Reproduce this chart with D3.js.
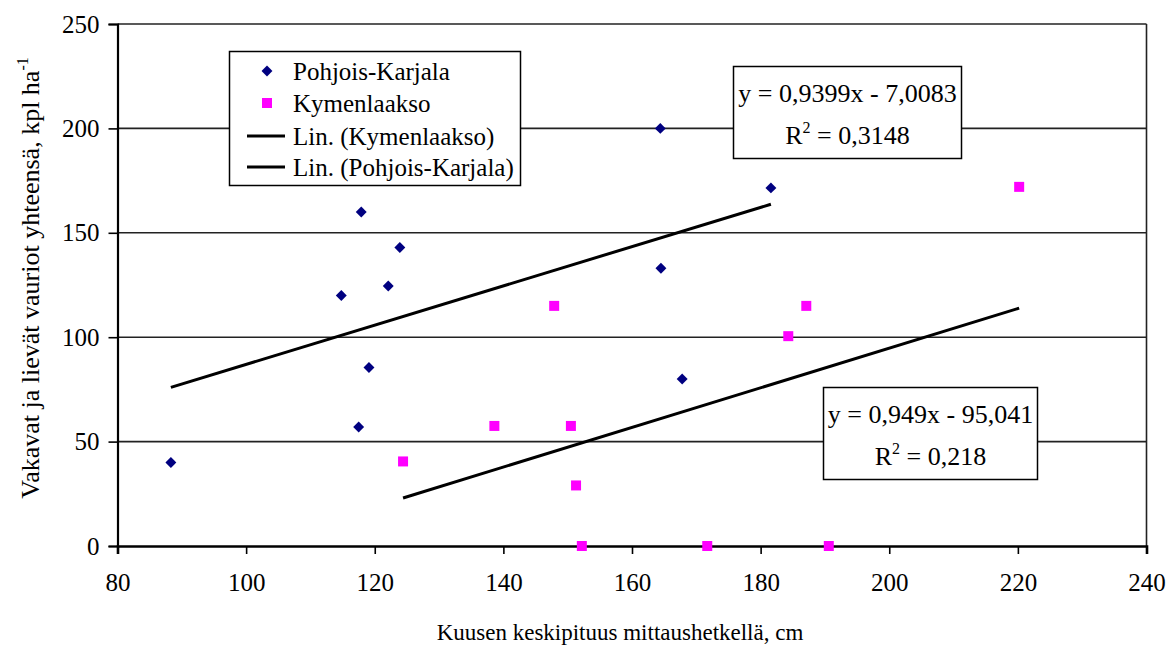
<!DOCTYPE html>
<html>
<head>
<meta charset="utf-8">
<script src="https://cdn.jsdelivr.net/npm/d3@7"></script>
<style>
  html, body { margin: 0; padding: 0; background: #fff; }
  svg { display: block; font-family: "Liberation Serif", "Times New Roman", serif; }
</style>
</head>
<body>
<svg id="chart" width="1168" height="648"></svg>
<script>
// Spruce mean height (cm) vs. total severe + mild damages (pcs/ha)
const pkX = [88.3, 114.8, 117.5, 117.9, 119.1, 122.1, 123.9, 164.4, 164.5, 167.8, 181.6];
const pkY = [40, 120, 57, 160, 85.5, 124.5, 143, 200, 133, 80, 171.5];
const kyX = [124.4, 138.6, 147.9, 150.5, 151.3, 152.2, 171.7, 184.3, 187.1, 190.6, 220.2];
const kyY = [40.5, 57.5, 115, 57.5, 29, 0, 0, 100.5, 115, 0, 172];

// Linear trend coefficients [slope, intercept] and R²
const pkFit = [0.9399, -7.0083];
const pkR2 = "0,3148";
const kyFit = [0.949, -95.041];
const kyR2 = "0,218";

const xTicks = [80, 100, 120, 140, 160, 180, 200, 220, 240];
const yTicks = [0, 50, 100, 150, 200, 250];

const legendItems = ["Pohjois-Karjala", "Kymenlaakso", "Lin. (Kymenlaakso)", "Lin. (Pohjois-Karjala)"];

const svg = d3.select("#chart");
const plotL = 117.5, plotR = 1146.5, plotT = 24, plotB = 546;

const x = d3.scaleLinear().domain([80, 240]).range([plotL, plotR]);
const y = d3.scaleLinear().domain([0, 250]).range([plotB, plotT]);

const FONT = 25;
const SERIF = "Liberation Serif";

// horizontal gridlines
svg.append("g").selectAll("line").data(yTicks.filter(d => d > 0)).join("line")
  .attr("x1", plotL).attr("x2", plotR)
  .attr("y1", d => y(d)).attr("y2", d => y(d))
  .attr("stroke", "#222").attr("stroke-width", 1.6);

// right frame line
svg.append("line").attr("x1", plotR).attr("x2", plotR).attr("y1", plotT).attr("y2", plotB)
  .attr("stroke", "#222").attr("stroke-width", 1.6);

// y axis
const yAxis = svg.append("g").attr("transform", `translate(${plotL},0)`)
  .call(d3.axisLeft(y).tickValues(yTicks).tickSize(9).tickPadding(9).tickFormat(d3.format("d")));
yAxis.attr("font-family", SERIF);
yAxis.select(".domain").attr("stroke", "#000").attr("stroke-width", 2.2);
yAxis.selectAll(".tick line").attr("stroke", "#000").attr("stroke-width", 1.6);
yAxis.selectAll("text").attr("font-size", FONT).attr("font-family", SERIF).attr("fill", "#000");

// x axis
const xAxis = svg.append("g").attr("transform", `translate(0,${plotB})`)
  .call(d3.axisBottom(x).tickValues(xTicks).tickSize(8).tickPadding(19).tickFormat(d3.format("d")));
xAxis.attr("font-family", SERIF);
xAxis.select(".domain").attr("stroke", "#000").attr("stroke-width", 2.6);
xAxis.selectAll(".tick line").attr("stroke", "#000").attr("stroke-width", 1.6);
xAxis.selectAll("text").attr("font-size", FONT).attr("font-family", SERIF).attr("fill", "#000");

// axis titles
svg.append("text")
  .attr("x", 620).attr("y", 640)
  .attr("text-anchor", "middle").attr("font-size", 23)
  .text("Kuusen keskipituus mittaushetkellä, cm");

const yt = svg.append("text")
  .attr("transform", "translate(39,278) rotate(-90)")
  .attr("text-anchor", "middle").attr("font-size", 26);
yt.append("tspan").text("Vakavat ja lievät vauriot yhteensä, kpl ha");
yt.append("tspan").attr("dy", -11).attr("font-size", 16).text("-1");

// trend lines over each series' x range
function trend(xs, fit) {
  const [lo, hi] = d3.extent(xs);
  return [[lo, fit[0] * lo + fit[1]], [hi, fit[0] * hi + fit[1]]];
}
const line = d3.line().x(d => x(d[0])).y(d => y(d[1]));
svg.append("path").attr("d", line(trend(pkX, pkFit)))
  .attr("stroke", "#000").attr("stroke-width", 3).attr("fill", "none");
svg.append("path").attr("d", line(trend(kyX, kyFit)))
  .attr("stroke", "#000").attr("stroke-width", 3).attr("fill", "none");

// markers
const diamond = d3.symbol().type(d3.symbolDiamond2).size(76);
const square = d3.symbol().type(d3.symbolSquare).size(100);

svg.append("g").selectAll("path").data(pkX.map((v, i) => [v, pkY[i]])).join("path")
  .attr("d", diamond)
  .attr("transform", d => `translate(${x(d[0])},${y(d[1])})`)
  .attr("fill", "#000080");

svg.append("g").selectAll("path").data(kyX.map((v, i) => [v, kyY[i]])).join("path")
  .attr("d", square)
  .attr("transform", d => `translate(${x(d[0])},${y(d[1])})`)
  .attr("fill", "#ff00ff");

// legend
const lg = svg.append("g");
lg.append("rect").attr("x", 229.5).attr("y", 51.5).attr("width", 291).attr("height", 134)
  .attr("fill", "#fff").attr("stroke", "#000").attr("stroke-width", 1.5);
const rowY = [71, 103, 136, 167];
lg.selectAll("text").data(legendItems).join("text")
  .attr("x", 293).attr("y", (d, i) => rowY[i] + 9)
  .attr("font-size", FONT).text(d => d);
lg.append("path").attr("d", diamond).attr("transform", `translate(267,${rowY[0]})`).attr("fill", "#000080");
lg.append("path").attr("d", square).attr("transform", `translate(267,${rowY[1]})`).attr("fill", "#ff00ff");
[2, 3].forEach(i => {
  lg.append("line").attr("x1", 247).attr("x2", 285).attr("y1", rowY[i]).attr("y2", rowY[i])
    .attr("stroke", "#000").attr("stroke-width", 3);
});

// equation boxes
function eqBox(bx, by, bw, bh, fit, r2) {
  const g = svg.append("g");
  g.append("rect").attr("x", bx).attr("y", by).attr("width", bw).attr("height", bh)
    .attr("fill", "#fff").attr("stroke", "#000").attr("stroke-width", 1.5);
  const cx = bx + bw / 2;
  const fmt = v => String(Math.abs(v)).replace(".", ",");
  g.append("text").attr("x", cx).attr("y", by + 35).attr("text-anchor", "middle").attr("font-size", 26)
    .text(`y = ${fmt(fit[0])}x ${fit[1] < 0 ? "-" : "+"} ${fmt(fit[1])}`);
  const t = g.append("text").attr("x", cx).attr("y", by + 77).attr("text-anchor", "middle").attr("font-size", 26);
  t.append("tspan").text("R");
  t.append("tspan").attr("dy", -11).attr("font-size", 16).text("2");
  t.append("tspan").attr("dy", 11).text(` = ${r2}`);
}
eqBox(733.5, 66.5, 228, 92, pkFit, pkR2);
eqBox(823.5, 387.5, 214, 92, kyFit, kyR2);
</script>
</body>
</html>
